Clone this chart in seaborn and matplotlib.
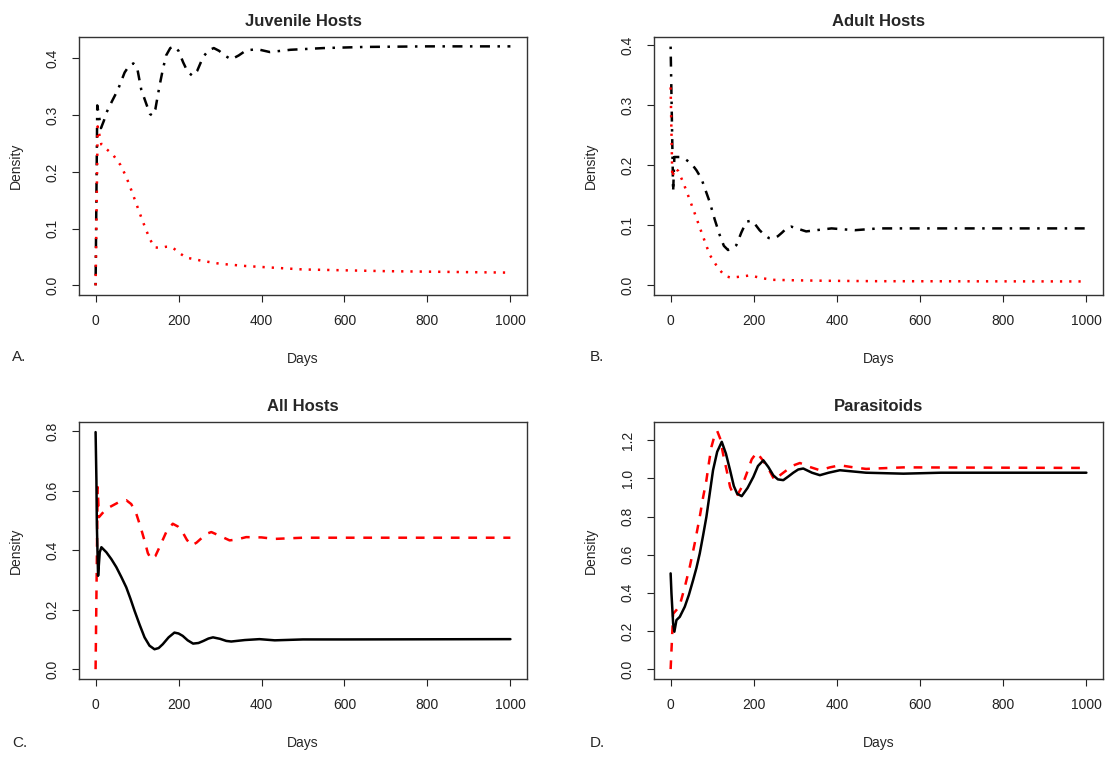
import matplotlib
matplotlib.use("Agg")
import matplotlib.pyplot as plt
from matplotlib.ticker import FormatStrFormatter
import pandas as pd
import seaborn as sns

# values: days and density per curve
juv_black_days = [0, 4, 13, 20, 26, 40, 54, 70, 80, 91, 100, 110, 124, 131, 137, 144, 154, 162, 170, 180, 190, 200, 211, 222, 234, 245, 259, 272, 285, 298, 311, 327, 345, 363, 390, 420, 470, 550, 650, 800, 1000]
juv_black = [0.0, 0.317, 0.277, 0.29, 0.304, 0.325, 0.345, 0.375, 0.386, 0.391, 0.384, 0.345, 0.316, 0.302, 0.299, 0.31, 0.351, 0.38, 0.405, 0.418, 0.421, 0.413, 0.393, 0.376, 0.369, 0.378, 0.402, 0.414, 0.418, 0.413, 0.405, 0.398, 0.405, 0.414, 0.416, 0.411, 0.415, 0.418, 0.42, 0.421, 0.421]
juv_red_days = [0, 5, 14, 42, 60, 74, 86, 98, 110, 122, 132, 142, 155, 170, 180, 190, 204, 218, 258, 300, 363, 500, 700, 1000]
juv_red = [0.0, 0.28, 0.248, 0.23, 0.212, 0.191, 0.168, 0.144, 0.12, 0.097, 0.08, 0.067, 0.066, 0.068, 0.068, 0.064, 0.056, 0.049, 0.043, 0.038, 0.034, 0.028, 0.025, 0.0224]

adult_black_days = [0, 6, 9, 22, 36, 50, 62, 74, 94, 106, 118, 128, 138, 148, 158, 170, 182, 194, 202, 214, 226, 236, 246, 258, 268, 280, 290, 308, 326, 350, 387, 443, 500, 600, 1000]
adult_black = [0.398, 0.156, 0.214, 0.214, 0.21, 0.203, 0.192, 0.178, 0.139, 0.11, 0.084, 0.066, 0.059, 0.061, 0.067, 0.088, 0.106, 0.108, 0.103, 0.092, 0.084, 0.079, 0.078, 0.082, 0.088, 0.096, 0.098, 0.094, 0.09, 0.092, 0.095, 0.092, 0.095, 0.095, 0.095]
adult_red_days = [0, 4, 10, 18, 30, 42, 58, 74, 94, 114, 124, 134, 145, 160, 191, 220, 246, 300, 374, 500, 1000]
adult_red = [0.33, 0.18, 0.195, 0.191, 0.172, 0.15, 0.12, 0.089, 0.051, 0.029, 0.021, 0.015, 0.013, 0.014, 0.0166, 0.012, 0.0093, 0.0085, 0.0077, 0.007, 0.0066]

all_black_days = [0, 2, 3, 6, 10, 14, 26, 38, 50, 62, 74, 84, 94, 106, 118, 130, 142, 152, 162, 176, 190, 200, 210, 222, 235, 248, 260, 272, 283, 300, 315, 327, 360, 395, 432, 500, 600, 1000]
all_black = [0.797, 0.634, 0.488, 0.314, 0.393, 0.41, 0.393, 0.37, 0.343, 0.31, 0.275, 0.237, 0.196, 0.15, 0.107, 0.079, 0.067, 0.071, 0.084, 0.107, 0.123, 0.12, 0.112, 0.097, 0.086, 0.088, 0.095, 0.103, 0.107, 0.102, 0.095, 0.093, 0.098, 0.101, 0.097, 0.1, 0.1, 0.101]
all_red_days = [0, 5, 8, 20, 34, 54, 74, 86, 98, 108, 118, 126, 134, 144, 154, 170, 186, 198, 210, 220, 231, 243, 255, 267, 279, 300, 323, 340, 363, 400, 432, 500, 1000]
all_red = [0.0, 0.612, 0.511, 0.53, 0.545, 0.56, 0.568, 0.555, 0.523, 0.48, 0.432, 0.39, 0.37, 0.38, 0.41, 0.46, 0.489, 0.48, 0.46, 0.435, 0.416, 0.425, 0.44, 0.455, 0.461, 0.448, 0.433, 0.436, 0.444, 0.443, 0.438, 0.442, 0.442]

para_black_days = [0, 2, 6, 9, 14, 22, 34, 44, 54, 62, 70, 78, 86, 94, 102, 112, 123, 133, 143, 152, 160, 171, 185, 199, 210, 223, 235, 247, 258, 271, 283, 295, 307, 319, 340, 359, 380, 407, 470, 560, 650, 1000]
para_black = [0.502, 0.397, 0.24, 0.196, 0.257, 0.274, 0.327, 0.39, 0.466, 0.53, 0.606, 0.7, 0.798, 0.92, 1.043, 1.14, 1.192, 1.13, 1.043, 0.96, 0.92, 0.907, 0.95, 1.008, 1.065, 1.095, 1.06, 1.016, 0.995, 0.991, 1.01, 1.03, 1.047, 1.052, 1.03, 1.017, 1.03, 1.043, 1.03, 1.025, 1.03, 1.03]
para_red_days = [0, 6, 14, 22, 34, 46, 58, 70, 78, 86, 92, 98, 105, 112, 119, 126, 135, 143, 151, 159, 170, 183, 195, 207, 220, 235, 250, 265, 279, 295, 311, 335, 359, 383, 407, 440, 470, 560, 1000]
para_red = [0.0, 0.29, 0.31, 0.335, 0.43, 0.536, 0.66, 0.798, 0.9, 0.99, 1.08, 1.164, 1.22, 1.249, 1.21, 1.13, 1.04, 0.956, 0.915, 0.907, 0.95, 1.026, 1.1, 1.136, 1.1, 1.052, 0.991, 1.02, 1.043, 1.068, 1.081, 1.06, 1.043, 1.058, 1.069, 1.058, 1.05, 1.058, 1.055]

titles = ["Juvenile Hosts", "Adult Hosts", "All Hosts", "Parasitoids"]
panel_tags = ["A.", "B.", "C.", "D."]
x_ticks = [0, 200, 400, 600, 800, 1000]

sns.set_style("ticks")
plt.rcParams["font.family"] = ["Liberation Sans", "DejaVu Sans"]
plt.rcParams["axes.edgecolor"] = "#333333"
plt.rcParams["axes.linewidth"] = 1.0

dotdash = (0, (1, 3, 4, 3))
dotted = (0, (0.9, 2.8))
dashed = (0, (3.5, 3.5))

# (left, bottom, width, height) in figure fraction, from the reference layout
W, H = 1112, 758
boxes = [
    (79 / W, 1 - 295 / H, 448 / W, 258 / H),
    (654 / W, 1 - 295 / H, 449 / W, 258 / H),
    (79 / W, 1 - 679 / H, 448 / W, 257 / H),
    (654 / W, 1 - 679 / H, 449 / W, 257 / H),
]

panels = [
    [(juv_black_days, juv_black, "black", dotdash), (juv_red_days, juv_red, "red", dotted)],
    [(adult_black_days, adult_black, "black", dotdash), (adult_red_days, adult_red, "red", dotted)],
    [(all_red_days, all_red, "red", dashed), (all_black_days, all_black, "black", "-")],
    [(para_red_days, para_red, "red", dashed), (para_black_days, para_black, "black", "-")],
]
ylims = [(-0.017, 0.4375), (-0.016, 0.414), (-0.033, 0.831), (-0.052, 1.296)]
yticks = [[0, 0.1, 0.2, 0.3, 0.4], [0, 0.1, 0.2, 0.3, 0.4],
          [0, 0.2, 0.4, 0.6, 0.8], [0, 0.2, 0.4, 0.6, 0.8, 1.0, 1.2]]

fig = plt.figure(figsize=(11.12, 7.58), dpi=100)

for i in range(4):
    ax = fig.add_axes(boxes[i])
    for days, vals, col, ls in panels[i]:
        df = pd.DataFrame({"Days": days, "Density": vals})
        sns.lineplot(data=df, x="Days", y="Density", ax=ax, color=col,
                     linestyle=ls, linewidth=1.8, estimator=None, errorbar=None)
    ax.set_xlim(-40, 1040)
    ax.set_ylim(*ylims[i])
    ax.set_xticks(x_ticks)
    ax.set_yticks(yticks[i])
    ax.yaxis.set_major_formatter(FormatStrFormatter("%.1f"))
    ax.tick_params(direction="out", length=5, width=0.8, pad=9, labelsize=10, colors="#222222")
    for lab in ax.get_yticklabels():
        lab.set_rotation(90)
        lab.set_va("center")
    ax.set_xlabel("Days", fontsize=10, labelpad=17)
    ax.set_ylabel("Density", fontsize=10, labelpad=16)
    ax.set_title(titles[i], fontsize=12, fontweight="bold", pad=8)
    ax.grid(False)

fig.text(12 / W, 1 - 357 / H, panel_tags[0], fontsize=11, va="center")
fig.text(590 / W, 1 - 357 / H, panel_tags[1], fontsize=11, va="center")
fig.text(12 / W, 1 - 743 / H, panel_tags[2], fontsize=11, va="center")
fig.text(590 / W, 1 - 743 / H, panel_tags[3], fontsize=11, va="center")

fig.savefig("out.png", dpi=100)
